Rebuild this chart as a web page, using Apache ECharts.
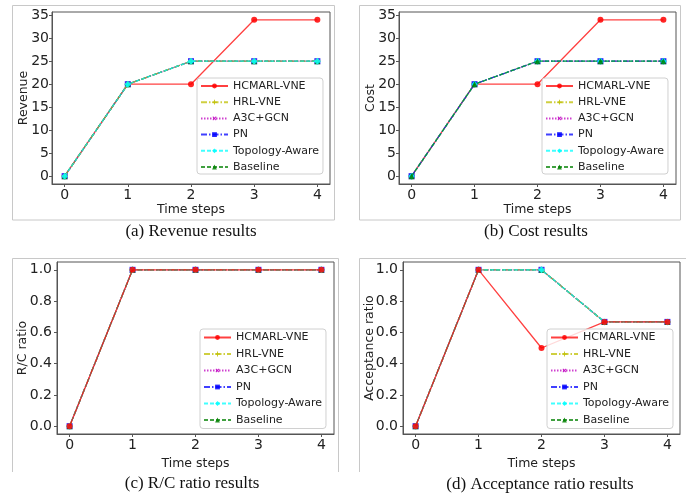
<!DOCTYPE html>
<html>
<head>
<meta charset="utf-8">
<script src="https://cdn.jsdelivr.net/npm/echarts@6/dist/echarts.min.js"></script>
<style>
html,body{margin:0;padding:0;background:#fff;}
#chart{width:686px;height:498px;}
</style>
</head>
<body>
<div id="chart"></div>
<script>
// ---------------- data ----------------
const timeSteps = [0, 1, 2, 3, 4];
const seriesNames = ['HCMARL-VNE', 'HRL-VNE', 'A3C+GCN', 'PN', 'Topology-Aware', 'Baseline'];

const revenueHCMARL = [0, 20, 20, 34, 34];
const revenueHRL = [0, 20, 25, 25, 25];
const revenueA3C = [0, 20, 25, 25, 25];
const revenuePN = [0, 20, 25, 25, 25];
const revenueTopo = [0, 20, 25, 25, 25];
const revenueBaseline = [0, 20, 25, 25, 25];

const costHCMARL = [0, 20, 20, 34, 34];
const costHRL = [0, 20, 25, 25, 25];
const costA3C = [0, 20, 25, 25, 25];
const costPN = [0, 20, 25, 25, 25];
const costTopo = [0, 20, 25, 25, 25];
const costBaseline = [0, 20, 25, 25, 25];

const rcHCMARL = [0, 1, 1, 1, 1];
const rcHRL = [0, 1, 1, 1, 1];
const rcA3C = [0, 1, 1, 1, 1];
const rcPN = [0, 1, 1, 1, 1];
const rcTopo = [0, 1, 1, 1, 1];
const rcBaseline = [0, 1, 1, 1, 1];

const accHCMARL = [0, 1, 0.5, 0.667, 0.667];
const accHRL = [0, 1, 1, 0.667, 0.667];
const accA3C = [0, 1, 1, 0.667, 0.667];
const accPN = [0, 1, 1, 0.667, 0.667];
const accTopo = [0, 1, 1, 0.667, 0.667];
const accBaseline = [0, 1, 1, 0.667, 0.667];

const xTicks = [0, 1, 2, 3, 4];
const yTicksAmount = [0, 5, 10, 15, 20, 25, 30, 35];
const yTicksRatio = [0, 0.2, 0.4, 0.6, 0.8, 1.0];

const captions = ['(a) Revenue results', '(b) Cost results', '(c) R/C ratio results', '(d) Acceptance ratio results'];
const yNames = ['Revenue', 'Cost', 'R/C ratio', 'Acceptance ratio'];
const xName = 'Time steps';

// ---------------- styles ----------------
const PLUS = 'path://M4,0H6V4H10V6H6V10H4V6H0V4H4Z';
const styles = [
  {color: '#ff0000', type: 'solid', symbol: 'circle', size: 6, rot: 0},
  {color: '#bfbf00', type: [6, 2, 1.5, 2], symbol: PLUS, size: 6, rot: 0},
  {color: '#bf00bf', type: [1.5, 1.5], symbol: PLUS, size: 6, rot: 45},
  {color: '#0000ff', type: [6, 2, 1.5, 2], symbol: 'rect', size: 6, rot: 0},
  {color: '#00ffff', type: [4, 2], symbol: 'diamond', size: 7, rot: 0},
  {color: '#008000', type: [4, 2], symbol: 'triangle', size: 6, rot: 0}
];
// drawing order (z) per panel, index = series index
const zOrders = [
  [2.0, 2.5, 2.2, 2.1, 2.6, 2.3],
  [2.0, 2.1, 2.2, 2.3, 2.4, 2.5],
  [2.9, 2.5, 2.2, 2.1, 2.6, 2.3],
  [2.9, 2.5, 2.2, 2.1, 2.6, 2.3]
];

const panelData = [
  [revenueHCMARL, revenueHRL, revenueA3C, revenuePN, revenueTopo, revenueBaseline],
  [costHCMARL, costHRL, costA3C, costPN, costTopo, costBaseline],
  [rcHCMARL, rcHRL, rcA3C, rcPN, rcTopo, rcBaseline],
  [accHCMARL, accHRL, accA3C, accPN, accTopo, accBaseline]
];

const grids = [
  {left: 52, top: 12, width: 278, height: 172},
  {left: 399, top: 12, width: 277, height: 172},
  {left: 57, top: 262, width: 277, height: 172},
  {left: 403, top: 262, width: 277, height: 172}
];

const FONT = 'DejaVu Sans';
const axisColor = '#555';

const xAxes = grids.map((g, i) => ({
  type: 'value', gridIndex: i, min: -0.2, max: 4.2,
  name: xName, nameLocation: 'middle', nameGap: i < 2 ? 19.5 : 23,
  nameMoveOverlap: false,
  nameTextStyle: {fontFamily: FONT, fontSize: 12.5, color: '#222'},
  axisLine: {show: true, onZero: false, lineStyle: {color: axisColor, width: 1}},
  axisTick: {show: true, inside: false, length: 3, customValues: xTicks, lineStyle: {color: axisColor}},
  axisLabel: {customValues: xTicks, margin: 4, fontFamily: FONT, fontSize: 14, color: '#222'},
  splitLine: {show: false}
}));

const yAxes = grids.map((g, i) => {
  const ratio = i >= 2;
  return {
    type: 'value', gridIndex: i,
    min: ratio ? -0.05 : -1.7, max: ratio ? 1.05 : 35.7,
    name: yNames[i], nameLocation: 'middle',
    nameGap: [22, 22, 28, 27][i],
    nameMoveOverlap: false,
    nameTextStyle: {fontFamily: FONT, fontSize: 12.5, color: '#222'},
    axisLine: {show: true, onZero: false, lineStyle: {color: axisColor, width: 1}},
    axisTick: {show: true, inside: false, length: 3, customValues: ratio ? yTicksRatio : yTicksAmount, lineStyle: {color: axisColor}},
    axisLabel: {
      customValues: ratio ? yTicksRatio : yTicksAmount,
      margin: ratio ? 5 : 3, fontFamily: FONT, fontSize: 14, color: '#222',
      formatter: v => ratio ? v.toFixed(1) : String(Math.round(v))
    },
    splitLine: {show: false}
  };
});

const series = [];
panelData.forEach((arrs, p) => {
  arrs.forEach((arr, k) => {
    const st = styles[k];
    series.push({
      type: 'line', name: seriesNames[k],
      xAxisIndex: p, yAxisIndex: p,
      data: timeSteps.map((t, j) => [t, arr[j]]),
      symbol: st.symbol, symbolSize: st.size, symbolRotate: st.rot,
      showSymbol: true,
      z: zOrders[p][k],
      lineStyle: {color: st.color, type: st.type, width: 1.3, opacity: 0.75},
      itemStyle: {color: st.color, opacity: 0.85},
      emphasis: {disabled: true},
      animation: false
    });
  });
});

const legendPos = [
  {left: 197, top: 78, gap: 5.2, pad: [2.5, 4, 1.5, 3]},
  {left: 542, top: 78, gap: 5.2, pad: [2.5, 4, 1.5, 3]},
  {left: 200, top: 329, gap: 5.5, pad: [3, 4, 3, 3]},
  {left: 547, top: 329, gap: 5.5, pad: [3, 4, 3, 3]}
];
const legends = legendPos.map(pos => ({
  left: pos.left, top: pos.top, orient: 'vertical',
  data: seriesNames,
  itemWidth: 27, itemHeight: 6, itemGap: pos.gap,
  padding: pos.pad,
  backgroundColor: 'rgba(255,255,255,0.8)',
  borderColor: '#d0d0d0', borderWidth: 1, borderRadius: 3,
  textStyle: {fontFamily: FONT, fontSize: 11, color: '#222', lineHeight: 11},
  selectedMode: false
}));

const frameStyle = {stroke: '#c8c8c8', lineWidth: 1, fill: 'none'};
const capPos = [[191, 232], [536, 232], [192, 484], [540, 485]];
const graphics = [
  {type: 'rect', shape: {x: 12.5, y: 5.5, width: 322, height: 214.5}, style: frameStyle, silent: true, z: -1},
  {type: 'rect', shape: {x: 359.5, y: 5.5, width: 321, height: 214.5}, style: frameStyle, silent: true, z: -1},
  {type: 'polyline', shape: {points: [[12.5, 472], [12.5, 258.5], [338.5, 258.5], [338.5, 472]]}, style: frameStyle, silent: true, z: -1},
  {type: 'polyline', shape: {points: [[359.5, 472], [359.5, 258.5], [686, 258.5]]}, style: frameStyle, silent: true, z: -1}
];
captions.forEach((c, i) => {
  graphics.push({
    type: 'text', x: capPos[i][0], y: capPos[i][1], silent: true,
    style: {text: c, fontFamily: 'Liberation Serif', fontSize: 17, fill: '#111',
            textAlign: 'center', textVerticalAlign: 'middle'}
  });
});

const chart = echarts.init(document.getElementById('chart'), null, {renderer: 'canvas'});
chart.setOption({
  animation: false,
  backgroundColor: '#fff',
  grid: grids.map(g => Object.assign({show: true, borderColor: axisColor, borderWidth: 1, backgroundColor: 'transparent'}, g)),
  xAxis: xAxes,
  yAxis: yAxes,
  legend: legends,
  series: series,
  graphic: graphics
});
</script>
</body>
</html>
